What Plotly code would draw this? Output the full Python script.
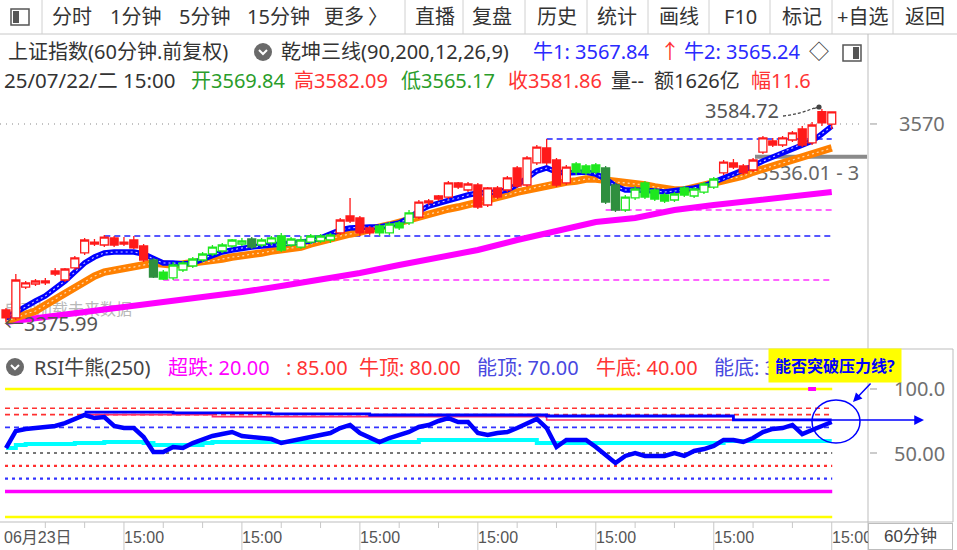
import plotly.graph_objects as go

W, H = 957, 550
FONT = "'Noto Sans', 'Noto Sans CJK SC', sans-serif"
NARROW = "'Liberation Sans Narrow', 'Liberation Sans', 'Noto Sans CJK SC', sans-serif"

# ---------------- data ----------------
BARS = list(range(85))
OPEN = [3387.7, 3379.9, 3410.2, 3413.2, 3414.2, 3425.9, 3417.1, 3428.9, 3443.6, 3454.3,
        3451.4, 3458.3, 3452.4, 3456.3, 3450.4, 3436.7, 3424.9, 3419.1, 3426.9, 3430.8,
        3436.7, 3442.6, 3445.5, 3450.4, 3452.4, 3457.3, 3451.4, 3453.4, 3460.2, 3451.4,
        3449.4, 3454.3, 3455.3, 3456.3, 3463.2, 3479.8, 3477.9, 3468.1, 3470.0, 3463.2,
        3473.0, 3473.0, 3478.8, 3492.6, 3499.4, 3498.4, 3512.2, 3505.3, 3510.2, 3490.6,
        3507.3, 3505.3, 3526.9, 3510.2, 3531.8, 3546.5, 3534.7, 3512.2, 3530.8, 3528.8,
        3529.8, 3526.9, 3510.2, 3485.7, 3497.5, 3512.2, 3505.3, 3500.4, 3495.5, 3507.3,
        3499.4, 3503.3, 3508.2, 3522.0, 3531.8, 3528.8, 3524.9, 3542.5, 3553.3, 3549.4,
        3554.3, 3565.1, 3551.4, 3582.0, 3569.84]
HIGH = [3389.7, 3423.0, 3416.1, 3418.1, 3419.1, 3428.9, 3428.9, 3440.6, 3458.3, 3457.3,
        3461.2, 3460.2, 3459.2, 3460.2, 3452.4, 3438.7, 3426.9, 3434.7, 3435.7, 3439.6,
        3444.5, 3451.4, 3453.4, 3457.3, 3458.3, 3459.2, 3458.3, 3460.2, 3463.2, 3459.2,
        3460.2, 3462.2, 3462.2, 3463.2, 3477.9, 3497.5, 3479.8, 3470.0, 3472.0, 3473.9,
        3474.9, 3485.7, 3495.5, 3496.5, 3500.4, 3514.1, 3513.1, 3513.1, 3512.2, 3508.2,
        3509.2, 3519.0, 3528.8, 3538.6, 3549.4, 3555.3, 3536.7, 3529.8, 3532.7, 3530.8,
        3531.8, 3528.8, 3512.2, 3500.4, 3509.2, 3514.1, 3507.3, 3502.4, 3503.3, 3509.2,
        3508.2, 3513.1, 3518.0, 3534.7, 3535.7, 3530.8, 3536.7, 3558.2, 3556.3, 3558.2,
        3563.1, 3568.0, 3571.9, 3584.72, 3582.09]
LOW = [3375.99, 3377.9, 3408.3, 3411.2, 3412.2, 3421.0, 3415.1, 3426.9, 3441.6, 3450.4,
       3449.4, 3449.4, 3450.4, 3447.5, 3434.7, 3419.1, 3417.1, 3417.1, 3424.9, 3428.9,
       3434.7, 3440.6, 3443.6, 3448.5, 3450.4, 3447.5, 3449.4, 3451.4, 3444.5, 3449.4,
       3447.5, 3452.4, 3453.4, 3453.4, 3461.2, 3473.0, 3460.2, 3461.2, 3460.2, 3461.2,
       3466.1, 3471.0, 3476.9, 3490.6, 3494.5, 3496.5, 3506.3, 3503.3, 3486.7, 3488.6,
       3496.5, 3503.3, 3507.3, 3508.2, 3529.8, 3529.8, 3508.2, 3510.2, 3520.0, 3520.0,
       3521.0, 3491.6, 3483.7, 3483.7, 3495.5, 3496.5, 3494.5, 3492.6, 3493.5, 3498.4,
       3497.5, 3501.4, 3506.3, 3520.0, 3525.9, 3520.0, 3522.9, 3540.6, 3547.4, 3547.4,
       3552.3, 3547.4, 3549.4, 3568.0, 3565.17]
CLOSE = [3379.9, 3417.1, 3414.2, 3416.1, 3416.1, 3423.0, 3427.9, 3438.7, 3456.3, 3452.4,
         3459.2, 3451.4, 3454.3, 3448.5, 3436.7, 3420.0, 3418.1, 3431.8, 3433.8, 3437.7,
         3442.6, 3449.4, 3451.4, 3456.3, 3455.3, 3449.4, 3456.3, 3458.3, 3446.5, 3457.3,
         3456.3, 3460.2, 3460.2, 3461.2, 3475.9, 3474.9, 3463.2, 3463.2, 3463.2, 3472.0,
         3468.1, 3482.8, 3493.5, 3494.5, 3496.5, 3512.2, 3508.2, 3511.2, 3488.6, 3507.3,
         3498.4, 3517.1, 3509.2, 3536.7, 3547.4, 3531.8, 3510.2, 3527.8, 3522.9, 3522.0,
         3522.9, 3493.5, 3485.7, 3498.4, 3506.3, 3498.4, 3496.5, 3494.5, 3501.4, 3500.4,
         3506.3, 3511.2, 3516.1, 3532.7, 3527.8, 3522.0, 3534.7, 3556.3, 3549.4, 3556.3,
         3561.2, 3549.4, 3569.0, 3571.0, 3581.86]
# signal state of each bar: r = bull zone, g = bear zone, d = weak zone
ZONE = "rrrrrrrrrrrrrrrdgggggggggdggggggggrrrrggggrrrrrrrrrrrrrrrrgggddggggggggggrrrrrrrrrrrr"

BULL_LINE = [3379.9, 3385.7, 3390.6, 3396.5, 3401.4, 3408.3, 3416.1, 3424.9, 3433.8, 3439.6,
             3443.6, 3444.5, 3444.5, 3444.5, 3442.6, 3437.7, 3433.8, 3433.8, 3432.8, 3433.8,
             3437.7, 3441.6, 3444.5, 3446.5, 3448.5, 3449.4, 3450.4, 3451.4, 3451.4, 3452.4,
             3453.4, 3455.3, 3458.3, 3462.2, 3466.1, 3468.1, 3469.0, 3469.0, 3469.0, 3471.0,
             3473.0, 3477.9, 3484.7, 3489.6, 3492.6, 3495.5, 3497.5, 3500.4, 3502.4, 3502.4,
             3503.3, 3505.3, 3510.2, 3517.1, 3523.9, 3526.9, 3522.9, 3522.0, 3522.9, 3522.9,
             3521.0, 3516.1, 3509.2, 3505.3, 3505.3, 3505.3, 3504.3, 3503.3, 3504.3, 3505.3,
             3507.3, 3509.2, 3513.1, 3516.1, 3520.0, 3523.9, 3528.8, 3533.7, 3537.6, 3542.5,
             3546.5, 3550.4, 3553.3, 3560.2, 3567.84]
MID_LINE = [3376.9, 3379.9, 3383.8, 3386.7, 3392.6, 3398.5, 3404.4, 3409.3, 3415.1, 3421.0,
            3424.9, 3426.9, 3428.9, 3429.8, 3431.8, 3433.8, 3432.8, 3431.8, 3432.8, 3433.8,
            3434.7, 3435.7, 3437.7, 3439.6, 3440.6, 3442.6, 3443.6, 3445.5, 3446.5, 3448.5,
            3449.4, 3452.4, 3455.3, 3457.3, 3460.2, 3462.2, 3464.1, 3467.1, 3469.0, 3471.0,
            3473.9, 3476.9, 3478.8, 3481.8, 3483.7, 3486.7, 3488.6, 3490.6, 3492.6, 3495.5,
            3497.5, 3500.4, 3503.3, 3505.3, 3508.2, 3510.2, 3512.2, 3513.1, 3514.1, 3516.1,
            3516.1, 3515.1, 3513.1, 3512.2, 3511.2, 3510.2, 3508.2, 3506.3, 3505.3, 3505.3,
            3507.3, 3510.2, 3513.1, 3515.1, 3517.1, 3519.0, 3522.9, 3525.9, 3528.8, 3531.8,
            3534.7, 3537.6, 3540.6, 3543.5, 3546.5]
LONG_X = [0, 4, 8, 12, 16, 20, 24, 28, 32, 36, 40, 44, 48, 52, 56, 60, 64, 68, 72, 76, 80, 84]
LONG_LINE = [3376.0, 3380.8, 3385.7, 3390.6, 3394.6, 3399.5, 3405.3, 3411.2, 3417.1, 3424.0, 3431.8,
             3438.7, 3446.5, 3456.3, 3465.1, 3473.9, 3477.9, 3485.7, 3490.6, 3494.5, 3498.4, 3503.3]

# horizontal support / resistance levels in the price panel
LEVEL_PRICE = [3555.3, 3460.2, 3485.7, 3417.1]
LEVEL_START = [55, 10, 61, 16]
LEVEL_KIND = ["high", "high", "low", "low"]
MARK_PRICE = 3538.0
GRID_PRICE = 3570

RSI = [53.9, 67.2, 68.8, 69.5, 70.3, 71.1, 73.4, 76.6, 79.7, 77.3,
       78.1, 71.1, 69.5, 69.5, 62.5, 50.8, 50.8, 54.7, 53.9, 57.8,
       60.9, 63.3, 64.8, 66.4, 63.3, 62.5, 61.7, 60.9, 57.8, 59.4,
       61.7, 63.3, 64.8, 65.6, 69.5, 71.9, 65.6, 61.7, 58.6, 61.7,
       64.1, 66.4, 70.3, 71.9, 75.0, 77.3, 74.2, 74.2, 65.6, 64.1,
       65.6, 66.4, 69.5, 73.4, 76.6, 69.5, 54.7, 60.2, 60.2, 60.2,
       54.7, 48.4, 42.2, 47.7, 50.0, 47.7, 47.7, 47.7, 50.0, 47.7,
       51.6, 53.1, 55.5, 60.2, 60.2, 58.6, 61.7, 66.4, 68.8, 69.5,
       71.9, 64.8, 68.0, 71.1, 74.2]
RSI_BASE = [53.9, 56.3, 57.0, 57.0, 57.0, 57.0, 57.0, 57.8, 57.8, 57.8,
            58.6, 58.6, 58.6, 58.6, 57.8, 56.3, 56.3, 56.3, 56.3, 56.3,
            57.8, 58.6, 58.6, 58.6, 58.6, 58.6, 58.6, 58.6, 58.6, 58.6,
            58.6, 58.6, 58.6, 58.6, 58.6, 58.6, 58.6, 58.6, 58.6, 58.6,
            58.6, 58.6, 60.2, 60.2, 60.2, 60.2, 60.2, 60.2, 60.2, 60.2,
            60.2, 60.2, 60.2, 60.2, 57.8, 57.8, 57.8, 57.8, 57.8, 57.8,
            57.8, 57.8, 57.8, 57.8, 57.8, 57.8, 57.8, 57.8, 57.8, 57.8,
            57.8, 57.8, 57.8, 59.4, 59.4, 59.4, 59.4, 59.4, 59.4, 59.4,
            59.4, 59.4, 59.4, 59.4, 59.4]
PRESS_X = [8, 17, 27, 37, 55, 74, 84]
PRESS_Y = [82.0, 81.3, 80.5, 79.7, 78.9, 75.8, 75.8]
PRESS2_X = [8, 21, 55, 84]
PRESS2_Y = [80.0, 78.4, 75.8, 75.8]
RSI_LEVELS = [100, 85, 80, 70, 50, 40, 30, 20, 0]
RSI_TICKS = [100, 50]
RSI_TICK_TEXT = ["100.0", "50.00"]

X_LABEL_BARS = [0, 12, 24, 36, 48, 60, 72, 84]
X_LABELS = ["06月23日", "15:00", "15:00", "15:00", "15:00", "15:00", "15:00", "15:00"]
DAY_TICKS = [4, 8, 16, 20, 28, 32, 40, 44, 52, 56, 64, 68, 76, 80]

# ---------------- helpers ----------------
def PX(x):
    return x / W


def PY(y):
    return 1 - y / H


DARK = "#333333"
BLUE = "#2a2aff"
RED = "#ff3333"
GREEN = "#2a9d2a"
MAG = "#ff00ff"
GRAY = "#666666"

X_RANGE = [-0.61, 87.69]
X_DOM = [0, PX(868)]
Y_MAIN = [3353.4, 3598.4]
Y_MAIN_DOM = [PY(345), PY(95)]
Y_RSI = [-2.34, 128.9]
Y_RSI_DOM = [PY(520), PY(352)]

fig = go.Figure()

# faint labels that sit under the lines
fig.add_trace(go.Scatter(x=[-0.2], y=[3387.0], mode="text", text=["自动加载未来数据"],
                         textposition="middle right", textfont=dict(family=FONT, size=16, color="#b8b8b8"),
                         hoverinfo="skip", showlegend=False, xaxis="x", yaxis="y"))
fig.add_trace(go.Scatter(x=[76.4], y=[3520.0], mode="text", text=["3536.01 - 3"],
                         textposition="middle right", textfont=dict(family=FONT, size=20, color="#666666"),
                         hoverinfo="skip", showlegend=False, xaxis="x", yaxis="y"))

# long line (magenta)
fig.add_trace(go.Scatter(x=LONG_X, y=LONG_LINE, mode="lines", line=dict(color="#ff00ff", width=6),
                         hoverinfo="skip", showlegend=False, xaxis="x", yaxis="y"))
# mid band (orange)
fig.add_trace(go.Scatter(x=BARS, y=MID_LINE, mode="lines", line=dict(color="#ff8000", width=7.5),
                         hoverinfo="skip", showlegend=False, xaxis="x", yaxis="y"))
fig.add_trace(go.Scatter(x=BARS, y=MID_LINE, mode="lines", line=dict(color="#ffd9b0", width=1.2, dash="2px,3px"),
                         hoverinfo="skip", showlegend=False, xaxis="x", yaxis="y"))
# bull band (blue)
fig.add_trace(go.Scatter(x=BARS, y=BULL_LINE, mode="lines", line=dict(color="#0000ff", width=5.5),
                         hoverinfo="skip", showlegend=False, xaxis="x", yaxis="y"))
fig.add_trace(go.Scatter(x=BARS, y=BULL_LINE, mode="lines", line=dict(color="#c8c8ff", width=1.1, dash="2px,3px"),
                         hoverinfo="skip", showlegend=False, xaxis="x", yaxis="y"))

# candles (overlay axis so they sit above the lines)
ZONE_COL = {"r": "#ff1a1a", "g": "#1ee81e", "d": "#2f8f3f"}
for z, col in ZONE_COL.items():
    idx = [i for i in BARS if ZONE[i] == z]
    fig.add_trace(go.Candlestick(
        x=[BARS[i] for i in idx], open=[OPEN[i] for i in idx], high=[HIGH[i] for i in idx],
        low=[LOW[i] for i in idx], close=[CLOSE[i] for i in idx],
        increasing=dict(line=dict(color=col, width=1.3), fillcolor="white"),
        decreasing=dict(line=dict(color=col, width=1.3), fillcolor=col),
        whiskerwidth=0, hoverinfo="skip", showlegend=False, xaxis="x", yaxis="y3"))

# RSI panel
fig.add_trace(go.Scatter(x=BARS, y=RSI_BASE, mode="lines", line=dict(color="#00ffff", width=4, shape="hv"),
                         hoverinfo="skip", showlegend=False, xaxis="x2", yaxis="y2"))
fig.add_trace(go.Scatter(x=PRESS2_X, y=PRESS2_Y, mode="lines", line=dict(color="#ff2a6a", width=1.6, shape="hv"),
                         hoverinfo="skip", showlegend=False, xaxis="x2", yaxis="y2"))
fig.add_trace(go.Scatter(x=PRESS_X, y=PRESS_Y, mode="lines", line=dict(color="#0000ff", width=2.8, shape="hv"),
                         hoverinfo="skip", showlegend=False, xaxis="x2", yaxis="y2"))
fig.add_trace(go.Scatter(x=BARS, y=RSI, mode="lines", line=dict(color="#0000ff", width=4.5),
                         hoverinfo="skip", showlegend=False, xaxis="x2", yaxis="y2"))

shapes = []
ann = []


def line_paper(x0, y0, x1, y1, color="#c0c0c0", width=1, dash="solid"):
    shapes.append(dict(type="line", xref="paper", yref="paper", x0=PX(x0), y0=PY(y0), x1=PX(x1), y1=PY(y1),
                       line=dict(color=color, width=width, dash=dash), layer="above"))


def text(x, y, s, color=DARK, size=20, anchor="left", family=FONT, **kw):
    d = dict(x=PX(x), y=PY(y), xref="paper", yref="paper", xanchor=anchor, yanchor="middle", text=s,
             showarrow=False, font=dict(family=family, size=size, color=color))
    d.update(kw)
    ann.append(d)


# main grid and levels
shapes.append(dict(type="line", xref="paper", yref="y", x0=0, x1=PX(860), y0=GRID_PRICE, y1=GRID_PRICE,
                   line=dict(color="#b0b0b0", width=1.5, dash="1px,5px"), layer="below"))
for p, s, k in zip(LEVEL_PRICE, LEVEL_START, LEVEL_KIND):
    col = "#2020ff" if k == "high" else "#ff30ff"
    shapes.append(dict(type="line", xref="x", yref="y", x0=s, x1=BARS[-1], y0=p, y1=p,
                       line=dict(color=col, width=1.5, dash="6px,4px"), layer="below"))
shapes.append(dict(type="line", xref="paper", yref="y", x0=PX(755), x1=PX(867), y0=MARK_PRICE, y1=MARK_PRICE,
                   line=dict(color="#8a8a8a", width=4), layer="below"))
shapes.append(dict(type="line", xref="paper", yref="y", x0=PX(870), x1=PX(877), y0=GRID_PRICE, y1=GRID_PRICE,
                   line=dict(color="#999999", width=1)))

# RSI levels
LV_COL = ["#ffff00", "#ff3030", "#ff3030", "#3333ff", "#777777", "#ff3030", "#3333ff", "#ff00ff", "#ffff00"]
LV_DASH = ["solid", "5px,4px", "5px,4px", "5px,4px", "3px,4px", "3px,4px", "3px,4px", "solid", "solid"]
LV_W = [2.5, 1.6, 1.6, 1.6, 2.2, 2.2, 2.2, 3.5, 2.5]
for v, c, d, w in zip(RSI_LEVELS, LV_COL, LV_DASH, LV_W):
    shapes.append(dict(type="line", xref="x2", yref="y2", x0=-0.1, x1=BARS[-1] + 0.05, y0=v, y1=v,
                       line=dict(color=c, width=w, dash=d), layer="below"))
shapes.append(dict(type="line", xref="x2", yref="y2", x0=81.6, x1=82.4, y0=100, y1=100,
                   line=dict(color="#ff00ff", width=4), layer="below"))
for v, t in zip(RSI_TICKS, RSI_TICK_TEXT):
    shapes.append(dict(type="line", xref="paper", yref="y2", x0=PX(870), x1=PX(877), y0=v, y1=v,
                       line=dict(color="#999999", width=1)))
    ann.append(dict(x=PX(947), y=v, xref="paper", yref="y2", xanchor="right", yanchor="middle", text=t,
                    showarrow=False, font=dict(family=FONT, size=20, color="#707070")))

# panel borders
line_paper(0, 34, 957, 34, "#c8c8c8", 1)
line_paper(868, 34, 868, 550, "#bdbdbd", 1)
line_paper(0, 349, 953, 349, "#bdbdbd", 1)
line_paper(953, 349, 953, 522, "#bdbdbd", 1)
line_paper(0, 522, 953, 522, "#bdbdbd", 1)
for sx in [42, 405, 463, 525, 587, 648, 709, 770, 832, 893]:
    line_paper(sx, 0, sx, 34, "#d0d0d0", 1)

# toolbar icon & header icons
shapes.append(dict(type="rect", xref="paper", yref="paper", x0=PX(11), x1=PX(29), y0=PY(25), y1=PY(9),
                   line=dict(color="#555555", width=1.5)))
shapes.append(dict(type="rect", xref="paper", yref="paper", x0=PX(13), x1=PX(19), y0=PY(23), y1=PY(11),
                   fillcolor="#555555", line=dict(width=0)))
shapes.append(dict(type="rect", xref="paper", yref="paper", x0=PX(843), x1=PX(861), y0=PY(61), y1=PY(45),
                   line=dict(color="#555555", width=1.5)))
shapes.append(dict(type="rect", xref="paper", yref="paper", x0=PX(853), x1=PX(859), y0=PY(59), y1=PY(47),
                   fillcolor="#555555", line=dict(width=0)))
for cx, cy in [(263, 52), (15, 367)]:
    shapes.append(dict(type="circle", xref="paper", yref="paper", x0=PX(cx - 9), x1=PX(cx + 9),
                       y0=PY(cy + 9), y1=PY(cy - 9), fillcolor="#6a6a6a", line=dict(width=0)))
    shapes.append(dict(type="path", xref="paper", yref="paper",
                       path=f"M {PX(cx-4)},{PY(cy-2)} L {PX(cx)},{PY(cy+2)} L {PX(cx+4)},{PY(cy-2)}",
                       line=dict(color="white", width=2)))

# toolbar text
for s, x in [("分时", 50), ("1分钟", 108), ("5分钟", 177), ("15分钟", 245), ("更多", 322), ("〉", 366),
             ("直播", 413), ("复盘", 470), ("历史", 535), ("统计", 595), ("画线", 657), ("F10", 722),
             ("标记", 780), ("+自选", 835), ("返回", 903)]:
    text(x, 17, s, "#333333", 20)

# header line 1
text(6, 52, "上证指数(60分钟.前复权)", DARK, 20)
text(279, 52, "乾坤三线(90,200,12,26,9)", DARK, 20)
text(531, 52, "牛1: 3567.84", BLUE, 20)
text(658, 52, "↑", RED, 20)
text(682, 52, "牛2: 3565.24", BLUE, 20)
text(807, 52, "◇", DARK, 20)
# header line 2
text(2, 80, "25/07/22/二 15:00", DARK, 20.5)
text(189, 80, "开3569.84", GREEN, 20)
text(292, 80, "高3582.09", RED, 20)
text(399, 80, "低3565.17", GREEN, 20)
text(506, 80, "收3581.86", RED, 20)
text(609, 80, "量--", DARK, 20)
text(652, 80, "额1626亿", DARK, 20)
text(749, 80, "幅11.6", RED, 20)

# price labels
ann.append(dict(x=PX(947), y=GRID_PRICE, xref="paper", yref="y", xanchor="right", yanchor="middle",
                text="3570", showarrow=False, font=dict(family=FONT, size=20, color="#707070")))
ann.append(dict(x=PX(703), y=HIGH[83] - 1.5, xref="paper", yref="y", xanchor="left", yanchor="middle",
                text="3584.72", showarrow=False, font=dict(family=FONT, size=20, color="#555555")))
shapes.append(dict(type="path", xref="paper", yref="paper",
                   path=f"M {PX(783)},{PY(116)} Q {PX(800)},{PY(114)} {PX(814)},{PY(108)}",
                   line=dict(color="#444444", width=1.3, dash="3px,2px")))
ann.append(dict(x=PX(819), y=PY(107), xref="paper", yref="paper", ax=-7, ay=2, showarrow=True,
                arrowhead=6, arrowsize=1, arrowwidth=1.3, arrowcolor="#444444", text=""))
ann.append(dict(x=PX(2), y=LOW[0] - 1.5, xref="paper", yref="y", xanchor="left", yanchor="middle",
                text="←3375.99", showarrow=False, font=dict(family=FONT, size=20, color="#555555")))

# RSI header
text(32, 367, "RSI牛熊(250)", "#444444", 20)
text(166, 367, "超跌: 20.00", MAG, 20)
text(284, 367, ": 85.00", RED, 20)
text(357, 367, "牛顶: 80.00", RED, 20)
text(475, 367, "能顶: 70.00", "#4848e0", 20)
text(594, 367, "牛底: 40.00", RED, 20)
text(712, 367, "能底: 30.00", "#4848e0", 20)

# callout
ann.append(dict(x=PX(768), y=PY(348), xref="paper", yref="paper", xanchor="left", yanchor="top",
                text="<b>能否突破压力线?</b>", showarrow=False, bgcolor="#ffff00", width=132, height=33,
                borderpad=0, align="center", font=dict(family=FONT, size=16, color="#0000ff")))
shapes.append(dict(type="circle", xref="paper", yref="paper", x0=PX(812), x1=PX(860), y0=PY(443), y1=PY(400),
                   line=dict(color="#0000ff", width=1.5)))
ann.append(dict(x=PX(853), y=PY(402), xref="paper", yref="paper", ax=19, ay=-20, showarrow=True,
                arrowhead=2, arrowsize=1.2, arrowwidth=1.5, arrowcolor="#0000ff", text=""))
ann.append(dict(x=PX(924), y=PY(420), xref="paper", yref="paper", ax=-94, ay=0, showarrow=True,
                arrowhead=2, arrowsize=1.3, arrowwidth=1.5, arrowcolor="#0000ff", text=""))

# x axis labels
for b in X_LABEL_BARS[1:]:
    shapes.append(dict(type="line", xref="x", yref="paper", x0=b, x1=b, y0=PY(550), y1=PY(522),
                       line=dict(color="#c8c8c8", width=1)))
for b in DAY_TICKS:
    shapes.append(dict(type="line", xref="x", yref="paper", x0=b, x1=b, y0=PY(528), y1=PY(522),
                       line=dict(color="#c8c8c8", width=1)))
for i, (b, s) in enumerate(zip(X_LABEL_BARS, X_LABELS)):
    ann.append(dict(x=b, y=PY(537), xref="x", yref="paper", xanchor="left", yanchor="middle", text=s,
                    xshift=-4 if i == 0 else -2, showarrow=False,
                    font=dict(family=NARROW, size=16, color="#555555")))
ann.append(dict(x=PX(868), y=PY(523), xref="paper", yref="paper", xanchor="left", yanchor="top",
                text="60分钟", showarrow=False, bgcolor="white", bordercolor="#bdbdbd", borderwidth=1,
                width=83, height=25, borderpad=0, align="center",
                font=dict(family=NARROW, size=17, color="#444444")))

fig.update_layout(
    width=W, height=H, margin=dict(l=0, r=0, t=0, b=0),
    paper_bgcolor="white", plot_bgcolor="white", showlegend=False,
    boxgap=0.1, boxgroupgap=0.1,
    xaxis=dict(domain=X_DOM, range=X_RANGE, visible=False, anchor="y", rangeslider=dict(visible=False), fixedrange=True),
    xaxis2=dict(domain=X_DOM, range=X_RANGE, visible=False, anchor="y2", fixedrange=True),
    yaxis=dict(domain=Y_MAIN_DOM, range=Y_MAIN, visible=False, anchor="x", fixedrange=True),
    yaxis3=dict(range=Y_MAIN, visible=False, overlaying="y", anchor="x", fixedrange=True),
    yaxis2=dict(domain=Y_RSI_DOM, range=Y_RSI, visible=False, anchor="x2", fixedrange=True),
    shapes=shapes, annotations=ann, hovermode=False,
)

fig.write_html("out.html", config={"displayModeBar": False},
               post_script="document.body.style.margin='0';document.body.style.overflow='hidden';")
